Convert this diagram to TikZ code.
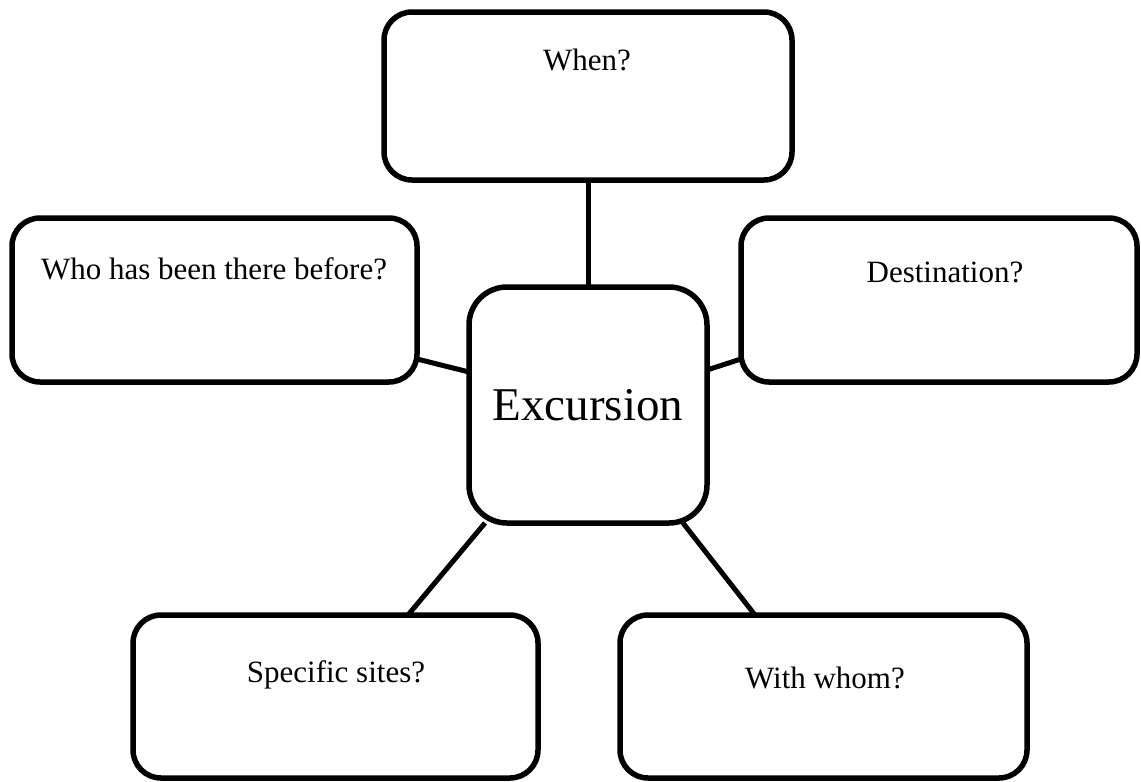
\documentclass[tikz,border=0pt]{standalone}
\usepackage{fontspec}
\setmainfont{Liberation Serif}
\begin{document}
\begin{tikzpicture}[x=1pt,y=-1pt,
  box/.style={draw, line width=5.5pt, rounded corners=28pt, fill=white, outer sep=0pt, inner sep=0pt},
  conn/.style={line width=5pt},
  lbl/.style={anchor=base, font=\fontsize{31}{37}\selectfont, inner sep=0pt}]
\useasboundingbox (0,0) rectangle (1141,782);
\node[box, minimum width=408pt, minimum height=168pt] (when) at (588,96) {};
\node[box, minimum width=405pt, minimum height=164pt] (who) at (214.5,300) {};
\node[box, minimum width=396pt, minimum height=164pt] (dest) at (939,300) {};
\node[box, rounded corners=38pt, minimum width=238pt, minimum height=236pt] (exc) at (588,405) {};
\node[box, minimum width=405pt, minimum height=163pt] (spec) at (335.5,696.5) {};
\node[box, minimum width=407pt, minimum height=163pt] (with) at (823.5,696.5) {};
\draw[conn] (when.south) -- (exc.north);
\draw[conn] ([yshift=-59pt]who.east) -- ([yshift=33pt]exc.west);
\draw[conn] ([yshift=35pt]exc.east) -- ([yshift=-59pt]dest.west);
\draw[conn] ([xshift=-103pt]exc.south) -- ([xshift=72.5pt]spec.north);
\draw[conn] ([xshift=95pt]exc.south) -- ([xshift=-68.5pt]with.north);
\node[lbl] (whenT) at (587,70) {When?};
\node[lbl] (whoT) at (214,279) {Who has been there before?};
\node[lbl] (destT) at (945,282) {Destination?};
\node[lbl, font=\fontsize{47}{56}\selectfont] (excT) at (588,420) {Excursion};
\node[lbl] (specT) at (336,682) {Specific sites?};
\node[lbl] (withT) at (825,688) {With whom?};
\end{tikzpicture}
\end{document}
